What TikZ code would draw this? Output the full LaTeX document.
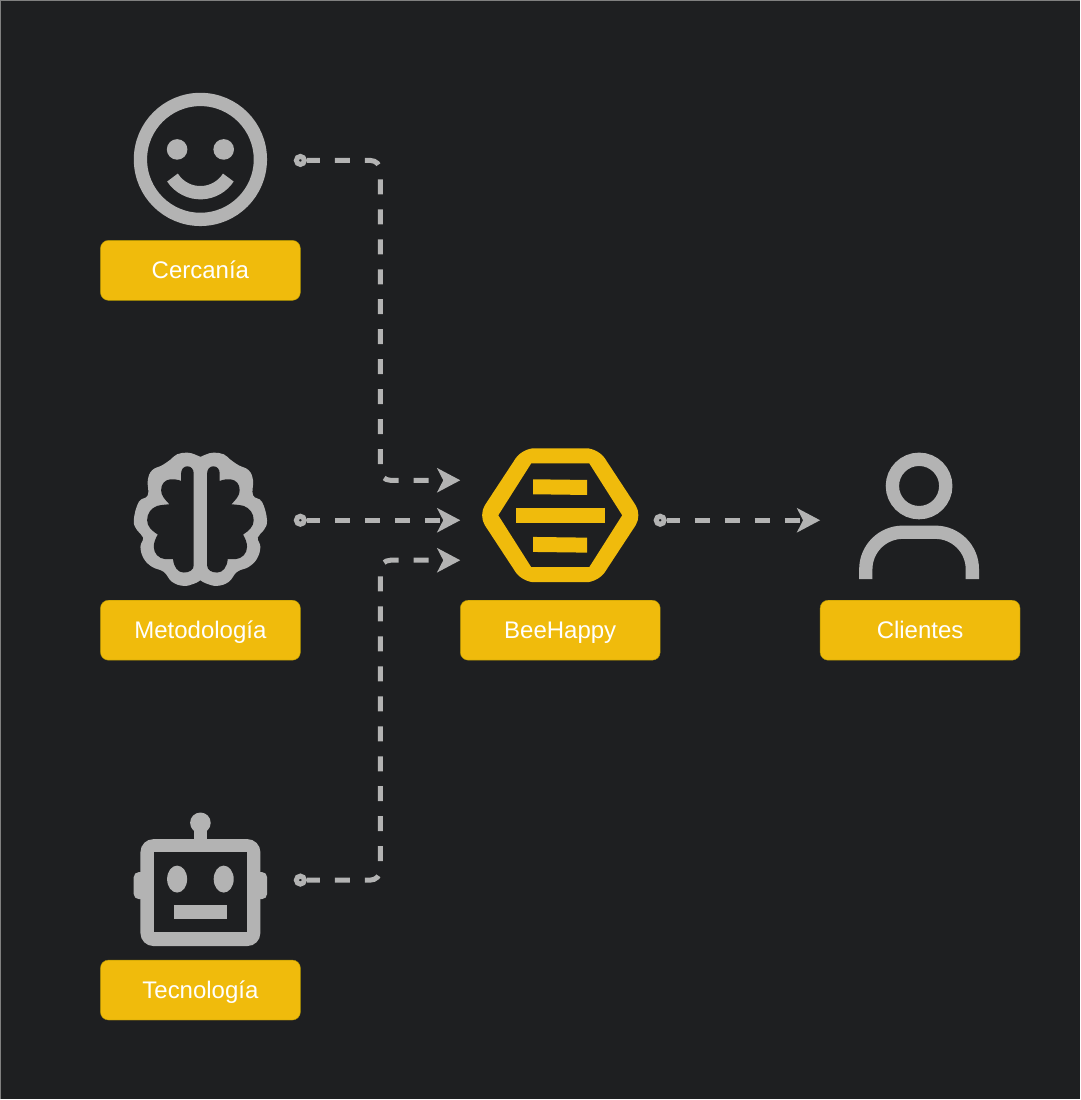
\documentclass[tikz,border=0pt]{standalone}
\usepackage{fontspec}
\setmainfont{Liberation Sans}
\usetikzlibrary{calc,arrows.meta}
\definecolor{bgdark}{HTML}{1E1F21}
\definecolor{beegold}{HTML}{F0BB0C}
\definecolor{beeedge}{HTML}{B09500}
\definecolor{icongray}{HTML}{B3B3B3}
\tikzset{
  namebox/.style={draw=beeedge,fill=beegold,rounded corners=8pt,minimum width=200pt,minimum height=60pt,
    inner sep=0pt,text=white,text height=19pt,text depth=2.4pt,font=\fontsize{24}{28}\selectfont},
  startdot/.style={circle,draw=icongray,fill=bgdark,line width=5pt,minimum size=8pt,inner sep=0pt},
  flow/.style={draw=icongray,line width=5pt,dash pattern=on 15pt off 15pt,dash phase=2pt,rounded corners=10pt,
    -{Stealth[length=23pt,width=24pt,inset=6pt]}},
  iconline/.style={draw=icongray,line width=13.3pt},
  iconfill/.style={fill=icongray}
}
\begin{document}
\begin{tikzpicture}[x=1pt,y=1pt]
\fill[bgdark] (0,0) rectangle (1080,1100);
\draw[gray,line width=1pt] (0.5,0) -- (0.5,1099.5) -- (1080,1099.5);
\begin{scope}[shift={(0.5,-0.5)}]
% names
\node[namebox] (cercania) at (200,830) {Cercanía};
\node[namebox] (metodologia) at (200,470) {Metodología};
\node[namebox] (tecnologia) at (200,110) {Tecnología};
\node[namebox] (beehappy) at (560,470) {BeeHappy};
\node[namebox] (clientes) at (920,470) {Clientes};
% smile
\begin{scope}[shift={(200,941)}]
  \draw[iconline] (0,0) circle (60);
  \fill[iconfill] (-23.3,10) circle (10.3) (23.3,10) circle (10.3);
  \draw[iconline] (213:33.3) arc (213:327:33.3);
\end{scope}
% brain, traced one side and mirrored
\begin{scope}[shift={(200,581)},x=0.3333pt,y=-0.3333pt]
  \foreach \side in {1,-1} {
    \begin{scope}[xscale=\side]
      \fill[iconfill] plot[smooth,tension=.7] coordinates {(0,-187) (-18,-195) (-40,-200) (-70,-195) (-90,-179) (-115,-162) (-145,-147) (-158,-117) (-158,-72) (-185,-52) (-200,3) (-190,33) (-172,55) (-180,83) (-170,118) (-145,143) (-110,158) (-85,188) (-50,200) (-18,193) (0,183)} -- (2,183) -- (2,-187) -- cycle;
      \fill[bgdark] (-20,-137) .. controls (-20,-150) and (-28,-159) .. (-39,-159) .. controls (-50,-159) and (-58,-150) .. (-58,-137) -- (-58,-115)
        .. controls (-70,-120) and (-80,-120) .. (-90,-120) .. controls (-108,-118) and (-118,-105) .. (-118,-87) .. controls (-118,-70) and (-105,-58) .. (-93,-45)
        .. controls (-105,-44) and (-118,-43) .. (-130,-40) .. controls (-148,-33) and (-160,-18) .. (-160,3) .. controls (-160,22) and (-145,35) .. (-128,46)
        .. controls (-135,58) and (-140,70) .. (-140,83) .. controls (-140,103) and (-125,118) .. (-105,120) -- (-82,120)
        .. controls (-80,143) and (-68,160) .. (-50,160) .. controls (-33,160) and (-20,152) .. (-20,138) -- cycle;
    \end{scope}
  }
\end{scope}
% bee
\begin{scope}[shift={(560,585)}]
  \fill[beegold,even odd rule,rounded corners=12pt] (-82,0) -- (-38,67) -- (38,67) -- (82,0) -- (38,-67) -- (-38,-67) -- cycle
    [sharp corners] (-62,0) -- (-29,52) -- (29,52) -- (62,0) -- (29,-52) -- (-29,-52) -- cycle;
  \fill[beegold] (-27.2,36) -- (26.8,35.3) -- (26.8,20.3) -- (-27.2,21) -- cycle;
  \fill[beegold] (-44.5,7.5) -- (44.5,7.5) -- (44.5,-7.5) -- (-44.5,-7.5) -- cycle;
  \fill[beegold] (-27.2,-21.7) -- (26.8,-22.4) -- (26.8,-37.4) -- (-27.2,-36.7) -- cycle;
\end{scope}
% person
\begin{scope}[shift={(919,580)}]
  \draw[iconline] (0,34.3) circle (26.7);
  \draw[iconline,rounded corners=37pt] (-53.3,-59) -- (-53.3,-12) -- (53.3,-12) -- (53.3,-59);
\end{scope}
% robot
\begin{scope}[shift={(200,220)}]
  \fill[iconfill,rounded corners=5pt] (-66.7,-19) rectangle (-50,8);
  \fill[iconfill,rounded corners=5pt] (66.7,-19) rectangle (50,8);
  \fill[iconfill,rounded corners=13pt] (-60,41) rectangle (60,-66);
  \fill[bgdark] (-46.7,27.7) rectangle (46.7,-52.3);
  \fill[iconfill] (-6.7,35) rectangle (6.7,57);
  \fill[iconfill] (0,57.3) circle (10.3);
  \fill[iconfill] (-23.3,1) ellipse (10 and 13.5) (23.3,1) ellipse (10 and 13.5);
  \fill[iconfill] (-26.7,-25.3) rectangle (26.7,-39);
\end{scope}
% connectors
\node[startdot] (dotcercania) at (300,940) {};
\node[startdot] (dotmetodologia) at (300,580) {};
\node[startdot] (dottecnologia) at (300,220) {};
\node[startdot] (dotbee) at (660,580) {};
\coordinate (beetop) at (460,620);
\coordinate (beemid) at (460,580);
\coordinate (beelow) at (460,540);
\coordinate (clientin) at (820,580);
\draw[flow] (dotcercania.east) -| ($(dotcercania)!.5!(beetop)$) |- (beetop);
\draw[flow] (dotmetodologia.east) -- (beemid);
\draw[flow] (dottecnologia.east) -| ($(dottecnologia)!.5!(beelow)$) |- (beelow);
\draw[flow] (dotbee.east) -- (clientin);
\end{scope}
\end{tikzpicture}
\end{document}
